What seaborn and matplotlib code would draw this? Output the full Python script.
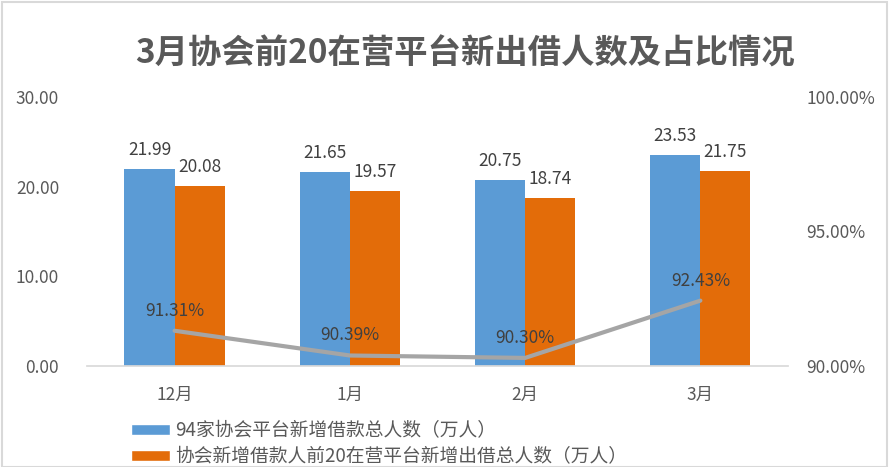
import matplotlib
matplotlib.use("Agg")
import matplotlib.pyplot as plt
import seaborn as sns
import pandas as pd
from matplotlib.patches import Rectangle, Patch

months = ["12月", "1月", "2月", "3月"]
series_names = ["94家协会平台新增借款总人数（万人）", "协会新增借款人前20在营平台新增出借总人数（万人）"]
total_borrowers = [21.99, 21.65, 20.75, 23.53]
top20_lenders = [20.08, 19.57, 18.74, 21.75]
ratio_pct = [91.31, 90.39, 90.30, 92.43]
left_ticks = [0, 10, 20, 30]
right_ticks = [90, 95, 100]
title = "3月协会前20在营平台新出借人数及占比情况"

sns.set_theme(style="white")
plt.rcParams["font.family"] = ["Noto Sans CJK SC", "DejaVu Sans"]

df = pd.DataFrame({
    "月份": months * 2,
    "人数": total_borrowers + top20_lenders,
    "系列": [series_names[0]] * 4 + [series_names[1]] * 4,
})

blue = "#5B9BD5"
orange = "#E36C09"
gray_line = "#A5A5A5"
txt = "#595959"

fig = plt.figure(figsize=(8.91, 4.67), dpi=100)
ax = fig.add_axes([0.0976, 0.2163, 0.7868, 0.576])
sns.barplot(data=df, x="月份", y="人数", hue="系列", order=months,
            hue_order=series_names, palette=[blue, orange], width=0.572,
            gap=0, saturation=1, linewidth=0, ax=ax, legend=False)
ax.set_ylim(0, 30)
ax.set_xlim(-0.5, 3.5)
ax.set_yticks(left_ticks)
ax.set_yticklabels([f"{v:.2f}" for v in left_ticks], color=txt, fontsize=12.5)
ax.tick_params(axis="x", colors=txt, labelsize=12.5, length=0, pad=14)
ax.tick_params(axis="y", length=0, pad=20)
ax.set_xlabel("")
ax.set_ylabel("")
for s in ["top", "left", "right"]:
    ax.spines[s].set_visible(False)
ax.spines["bottom"].set_color("#D9D9D9")
ax.grid(False)

for cont in ax.containers:
    for rect in cont:
        h = rect.get_height()
        ax.annotate(f"{h:.2f}", (rect.get_x() + rect.get_width() / 2, h),
                    xytext=(0, 7), textcoords="offset points", ha="center",
                    va="bottom", fontsize=12.5, color="#404040")

ax2 = ax.twinx()
sns.lineplot(x=list(range(len(months))), y=ratio_pct, ax=ax2, color=gray_line,
             linewidth=3, legend=False)
ax2.set_ylim(90, 100)
ax2.set_xlim(-0.5, 3.5)
ax2.set_yticks(right_ticks)
ax2.set_yticklabels([f"{v:.2f}%" for v in right_ticks], color=txt, fontsize=12.5)
ax2.tick_params(axis="y", length=0, pad=13)
ax2.set_ylabel("")
for s in ["top", "left", "right", "bottom"]:
    ax2.spines[s].set_visible(False)
ax2.grid(False)
for i, v in enumerate(ratio_pct):
    ax2.annotate(f"{v:.2f}%", (i, v), xytext=(0, 8), textcoords="offset points",
                 ha="center", va="bottom", fontsize=12.5, color="#404040")

fig.text(0.522, 0.885, title, ha="center", va="center", fontsize=24,
         fontweight="bold", color="#595959")

handles = [Patch(facecolor=blue), Patch(facecolor=orange)]
fig.legend(handles, series_names, loc="upper left", bbox_to_anchor=(0.147, 0.101),
           frameon=False, fontsize=13.5, labelcolor=txt, handlelength=2.08,
           handleheight=0.53, handletextpad=0.25, labelspacing=0.3,
           borderaxespad=0, borderpad=0)

fig.patches.append(Rectangle((0.002, 0.0), 0.994, 0.995, transform=fig.transFigure,
                             fill=False, edgecolor="#D9D9D9", linewidth=1.5))

fig.savefig("out.png", dpi=100)
